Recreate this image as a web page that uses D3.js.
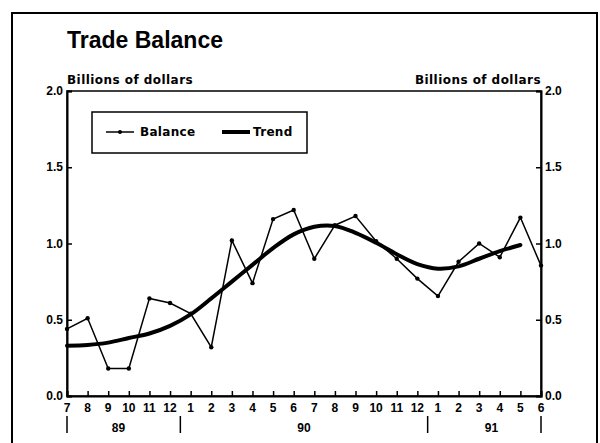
<!DOCTYPE html>
<html><head><meta charset="utf-8">
<script src="https://cdn.jsdelivr.net/npm/d3@7"></script>
<style>
html,body{margin:0;padding:0;background:#fff;}
svg{display:block;}
text{font-family:"Liberation Sans",Arial,Helvetica,sans-serif;font-weight:bold;fill:#000;}
text.wide{font-family:"DejaVu Sans",sans-serif;}
</style></head>
<body>
<svg id="c" width="600" height="443"></svg>
<script>
const months = [7,8,9,10,11,12,1,2,3,4,5,6,7,8,9,10,11,12,1,2,3,4,5,6];
const years = [{label:"89", pos:2.5},{label:"90", pos:11.5},{label:"91", pos:20.6}];
const yearBreaks = [0, 5.5, 17.5, 23];
const balance = [0.44,0.51,0.18,0.18,0.64,0.61,0.54,0.32,1.02,0.74,1.16,1.22,0.90,1.12,1.18,1.015,0.90,0.77,0.655,0.88,1.00,0.91,1.17,0.855];
const trend = [0.33,0.335,0.35,0.38,0.41,0.46,0.535,0.64,0.75,0.86,0.97,1.06,1.11,1.115,1.07,1.005,0.93,0.865,0.835,0.85,0.9,0.95,0.99];
const yTicks = [0,0.5,1.0,1.5,2.0];

const svg = d3.select("#c");
const L = 67, R = 541, T = 91, B = 396;
const x = d3.scaleLinear().domain([0,23]).range([L,R]);
const y = d3.scaleLinear().domain([0,2]).range([B,T]);

// outer frame
svg.append("path").attr("d",`M12,450 L12,13 L597,13 L597,450`)
  .attr("fill","none").attr("stroke","#000").attr("stroke-width",2);

svg.append("text").attr("x",67).attr("y",48).attr("font-size",23).text("Trade Balance");
svg.append("text").attr("class","wide").attr("x",67).attr("y",84).attr("font-size",12).attr("letter-spacing",0.45).text("Billions of dollars");
svg.append("text").attr("class","wide").attr("x",541).attr("y",84).attr("font-size",12).attr("letter-spacing",0.45).attr("text-anchor","end").text("Billions of dollars");

// plot box
svg.append("rect").attr("x",L).attr("y",T).attr("width",R-L).attr("height",B-T)
  .attr("fill","none").attr("stroke","#000").attr("stroke-width",1.5);

const fmt = d3.format(".1f");
const yl = svg.append("g").attr("transform",`translate(${L},0)`)
  .call(d3.axisRight(y).tickValues(yTicks).tickSize(5).tickFormat(""));
const yr = svg.append("g").attr("transform",`translate(${R},0)`)
  .call(d3.axisLeft(y).tickValues(yTicks).tickSize(5).tickFormat(""));
[yl,yr].forEach(g=>{g.select(".domain").attr("stroke-width",2);g.selectAll(".tick line").attr("stroke-width",1.5);});
svg.selectAll(".ylab").data(yTicks).enter().append("text")
  .attr("x",L-4).attr("y",d=>y(d)+4).attr("text-anchor","end").attr("font-size",12).text(fmt);
svg.selectAll(".yrlab").data(yTicks).enter().append("text")
  .attr("x",R+4).attr("y",d=>y(d)+4).attr("text-anchor","start").attr("font-size",12).text(fmt);

const xa = svg.append("g").attr("transform",`translate(0,${B})`)
  .call(d3.axisTop(x).tickValues(d3.range(24)).tickSize(5).tickFormat(""));
xa.select(".domain").attr("stroke-width",2);
xa.selectAll(".tick line").attr("stroke-width",1.5);

svg.selectAll(".mlab").data(months).enter().append("text")
  .attr("x",(d,i)=>x(i)).attr("y",412).attr("text-anchor","middle").attr("font-size",12).text(d=>d);
svg.selectAll(".ylabx").data(years).enter().append("text")
  .attr("x",d=>x(d.pos)).attr("y",432).attr("text-anchor","middle").attr("font-size",12).text(d=>d.label);
svg.selectAll(".yb").data(yearBreaks).enter().append("line")
  .attr("x1",d=>x(d)).attr("x2",d=>x(d)).attr("y1",416).attr("y2",433)
  .attr("stroke","#000").attr("stroke-width",1.5);

// trend
svg.append("path").datum(trend)
  .attr("d",d3.line().x((d,i)=>x(i)).y(d=>y(d)).curve(d3.curveCatmullRom))
  .attr("fill","none").attr("stroke","#000").attr("stroke-width",4).attr("stroke-linecap","round");
// balance
svg.append("path").datum(balance)
  .attr("d",d3.line().x((d,i)=>x(i)).y(d=>y(d)))
  .attr("fill","none").attr("stroke","#000").attr("stroke-width",1.5);
svg.selectAll(".pt").data(balance).enter().append("circle")
  .attr("cx",(d,i)=>x(i)).attr("cy",d=>y(d)).attr("r",2.2).attr("fill","#000");

// legend
svg.append("rect").attr("x",92).attr("y",112).attr("width",215).attr("height",41)
  .attr("fill","#fff").attr("stroke","#000").attr("stroke-width",1.5);
svg.append("line").attr("x1",106).attr("x2",134).attr("y1",132).attr("y2",132).attr("stroke","#000").attr("stroke-width",1.5);
svg.append("circle").attr("cx",120).attr("cy",132).attr("r",2).attr("fill","#000");
svg.append("text").attr("class","wide").attr("x",140).attr("y",136).attr("font-size",12).attr("letter-spacing",0.3).text("Balance");
svg.append("line").attr("x1",222).attr("x2",250).attr("y1",132).attr("y2",132).attr("stroke","#000").attr("stroke-width",4);
svg.append("text").attr("class","wide").attr("x",253).attr("y",136).attr("font-size",12).attr("letter-spacing",0.3).text("Trend");
</script>
</body></html>
